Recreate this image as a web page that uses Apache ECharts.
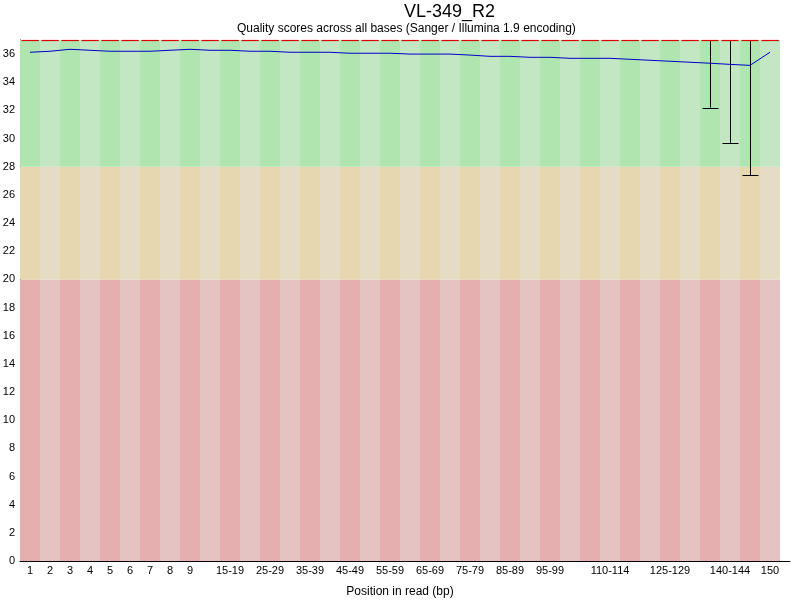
<!DOCTYPE html>
<html>
<head>
<meta charset="utf-8">
<script src="https://cdn.jsdelivr.net/npm/echarts@6/dist/echarts.min.js"></script>
<style>
  html, body { margin: 0; padding: 0; background: #fff; }
  #chart { width: 800px; height: 600px; }
</style>
</head>
<body>
<div id="chart"></div>
<script>
'use strict';

// positions in read
var categories = ['1', '2', '3', '4', '5', '6', '7', '8', '9',
  '10-14', '15-19', '20-24', '25-29', '30-34', '35-39', '40-44', '45-49',
  '50-54', '55-59', '60-64', '65-69', '70-74', '75-79', '80-84', '85-89',
  '90-94', '95-99', '100-104', '105-109', '110-114', '115-119', '120-124',
  '125-129', '130-134', '135-139', '140-144', '145-149', '150'];

// labels that are printed under the axis
var shownLabels = ['1', '2', '3', '4', '5', '6', '7', '8', '9',
  '15-19', '25-29', '35-39', '45-49', '55-59', '65-69', '75-79', '85-89',
  '95-99', '110-114', '125-129', '140-144', '150'];

var meanQ = [36.13, 36.2, 36.34, 36.27, 36.2, 36.2, 36.2, 36.27, 36.34,
  36.27, 36.27, 36.2, 36.2, 36.13, 36.13, 36.13, 36.06, 36.06, 36.06,
  36.0, 36.0, 36.0, 35.93, 35.84, 35.84, 35.77, 35.77, 35.7, 35.7, 35.7,
  35.63, 35.56, 35.49, 35.42, 35.35, 35.27, 35.2, 36.13];

var medianQ = [37, 37, 37, 37, 37, 37, 37, 37, 37, 37, 37, 37, 37, 37, 37,
  37, 37, 37, 37, 37, 37, 37, 37, 37, 37, 37, 37, 37, 37, 37, 37, 37, 37,
  37, 37, 37, 37, 37];

var lower10 = [37, 37, 37, 37, 37, 37, 37, 37, 37, 37, 37, 37, 37, 37, 37,
  37, 37, 37, 37, 37, 37, 37, 37, 37, 37, 37, 37, 37, 37, 37, 37, 37, 37,
  37, 32.2, 29.7, 27.4, 37];

var upper90 = [37, 37, 37, 37, 37, 37, 37, 37, 37, 37, 37, 37, 37, 37, 37,
  37, 37, 37, 37, 37, 37, 37, 37, 37, 37, 37, 37, 37, 37, 37, 37, 37, 37,
  37, 37, 37, 37, 37];

// quality zones: poor 0-20, reasonable 20-28, good 28-top
var zoneTops = [20, 28, 37];

var zoneColors = [
  ['rgb(230,175,175)', 'rgb(230,195,195)'],
  ['rgb(230,215,175)', 'rgb(230,220,195)'],
  ['rgb(175,230,175)', 'rgb(195,230,195)']
];

var font = 'Liberation Sans, Arial, sans-serif';

var chartDom = document.getElementById('chart');
var myChart = echarts.init(chartDom, null, {renderer: 'canvas'});

var zoneSeries = zoneTops.map(function (top, z) {
  var bottom = z === 0 ? 0 : zoneTops[z - 1];
  return {
    type: 'bar',
    stack: 'zones',
    barCategoryGap: '0%',
    silent: true,
    z: 1,
    data: categories.map(function () { return top - bottom; }),
    itemStyle: {
      color: function (p) {
        return zoneColors[z][p.dataIndex % 2];
      }
    }
  };
});

function whiskerItem(params, api) {
  var lo = api.coord([api.value(0), api.value(1)]);
  var hi = api.coord([api.value(0), api.value(2)]);
  var w = api.size([1, 0])[0];
  var half = w / 2 - 2;
  var x = Math.round(lo[0]) + 0.5;
  var style = {stroke: '#000', lineWidth: 1};
  return {
    type: 'group',
    children: [
      {type: 'line', shape: {x1: x, y1: lo[1], x2: x, y2: hi[1]}, style: style},
      {type: 'line', shape: {x1: x - half, y1: Math.round(lo[1]) + 0.5, x2: x + half, y2: Math.round(lo[1]) + 0.5}, style: style}
    ]
  };
}

function medianItem(params, api) {
  var p = api.coord([api.value(0), api.value(1)]);
  var w = api.size([1, 0])[0];
  var half = w / 2 - 1.5;
  return {
    type: 'line',
    shape: {x1: p[0] - half, y1: p[1] + 0.5, x2: p[0] + half, y2: p[1] + 0.5},
    style: {stroke: 'rgb(220,0,0)', lineWidth: 1.2}
  };
}

var option = {
  animation: false,
  backgroundColor: '#fff',
  title: [
    {
      text: 'VL-349_R2',
      left: 399,
      top: -2,
      textStyle: {fontFamily: font, fontSize: 18, fontWeight: 'normal', color: '#000'}
    },
    {
      text: 'Quality scores across all bases (Sanger / Illumina 1.9 encoding)',
      left: 232,
      top: 18,
      textStyle: {fontFamily: font, fontSize: 12, fontWeight: 'normal', color: '#000'}
    }
  ],
  grid: [
    {left: 20, right: 20, top: 40, bottom: 39, outerBoundsMode: 'none', containLabel: false},
    {left: 20, right: 10, top: 40, bottom: 39, outerBoundsMode: 'none', containLabel: false}
  ],
  xAxis: [
    {
      type: 'category',
      gridIndex: 0,
      data: categories,
      boundaryGap: true,
      axisLine: {show: false},
      axisTick: {show: false},
      axisLabel: {
        interval: function (index, value) {
          return shownLabels.indexOf(value) >= 0;
        },
        fontFamily: font,
        fontSize: 11,
        color: '#000',
        margin: 4
      },
      name: 'Position in read (bp)',
      nameLocation: 'middle',
      nameGap: 25,
      nameTextStyle: {fontFamily: font, fontSize: 12, color: '#000'}
    },
    {
      type: 'value',
      gridIndex: 1,
      min: 0,
      max: 1,
      axisLine: {show: true, onZero: false, lineStyle: {color: '#000', width: 1}},
      axisTick: {show: false},
      axisLabel: {show: false},
      splitLine: {show: false}
    }
  ],
  yAxis: [
    {
      type: 'value',
      gridIndex: 0,
      min: 0,
      max: 37,
      interval: 2,
      axisLine: {show: true, lineStyle: {color: '#000', width: 1}},
      axisTick: {show: false},
      splitLine: {show: false},
      axisLabel: {
        showMaxLabel: false,
        fontFamily: font,
        fontSize: 11,
        color: '#000',
        margin: 5
      }
    },
    {
      type: 'value',
      gridIndex: 1,
      min: 0,
      max: 1,
      show: false
    }
  ],
  series: zoneSeries.concat([
    {
      type: 'custom',
      name: 'whiskers',
      z: 3,
      silent: true,
      renderItem: whiskerItem,
      encode: {x: 0, y: [1, 2]},
      data: categories.map(function (c, i) { return [i, lower10[i], upper90[i]]; })
    },
    {
      type: 'custom',
      name: 'median',
      z: 4,
      silent: true,
      renderItem: medianItem,
      encode: {x: 0, y: 1},
      data: categories.map(function (c, i) { return [i, medianQ[i]]; })
    },
    {
      type: 'line',
      name: 'mean',
      z: 5,
      silent: true,
      data: meanQ,
      showSymbol: false,
      symbol: 'none',
      lineStyle: {color: '#0000c8', width: 1}
    }
  ])
};

myChart.setOption(option);
</script>
</body>
</html>
